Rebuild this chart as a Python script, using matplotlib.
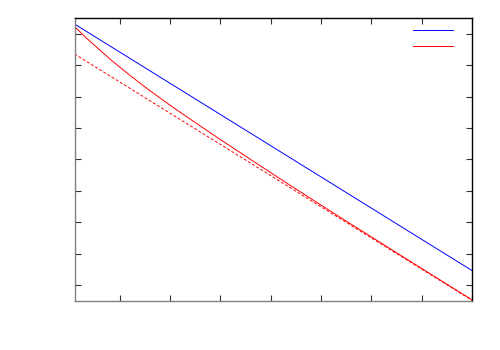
import numpy as np
import matplotlib
matplotlib.use("Agg")
from matplotlib import pyplot as plt

# values (no tick labels are shown in the reference)
x_blue = [0.1, 8.0]
y_blue = [8.315, 0.459]

x_fit = [0.1, 8.0]
y_fit = [7.36, -0.49]

x_red = [0.1, 0.345, 0.603, 0.842, 1.199, 1.597, 1.994, 2.392, 2.988,
         3.585, 4.380, 5.374, 6.567, 8.0]
y_red = [8.236, 7.855, 7.488, 7.146, 6.682, 6.192, 5.734, 5.291, 4.645,
         4.015, 3.181, 2.162, 0.960, -0.474]

x_ticks = [1, 2, 3, 4, 5, 6, 7, 8]
y_ticks = [0, 1, 2, 3, 4, 5, 6, 7, 8]

fig = plt.figure(figsize=(5, 3.5), dpi=100)
ax = fig.add_axes([0.149, 0.141, 0.795, 0.807])

l1, = ax.plot(x_blue, y_blue, color="#0000ff", lw=0.7)
l2, = ax.plot(x_red, y_red, color="#ff0000", lw=0.7)
ax.plot(x_fit, y_fit, color="#ff0000", lw=0.7, ls=(0, (3, 2)))

ax.set_xlim(0.1, 8.0)
ax.set_ylim(-0.5, 8.5)
ax.set_xticks(x_ticks)
ax.set_yticks(y_ticks)
ax.tick_params(direction="in", length=4, width=0.8, color="#333333",
               top=True, right=True, labelbottom=False, labelleft=False)

for side in ["left", "bottom"]:
    ax.spines[side].set_color("#808080")
for side in ["top", "right"]:
    ax.spines[side].set_color("black")
for s in ax.spines.values():
    s.set_linewidth(1.0)

ax.legend([l1, l2], [" ", " "], loc="upper right", frameon=False,
          bbox_to_anchor=(0.985, 0.999), fontsize=8, handlelength=3.6,
          handletextpad=0.2, labelspacing=0.47, borderaxespad=0.3)

fig.savefig("out.png", dpi=100)
